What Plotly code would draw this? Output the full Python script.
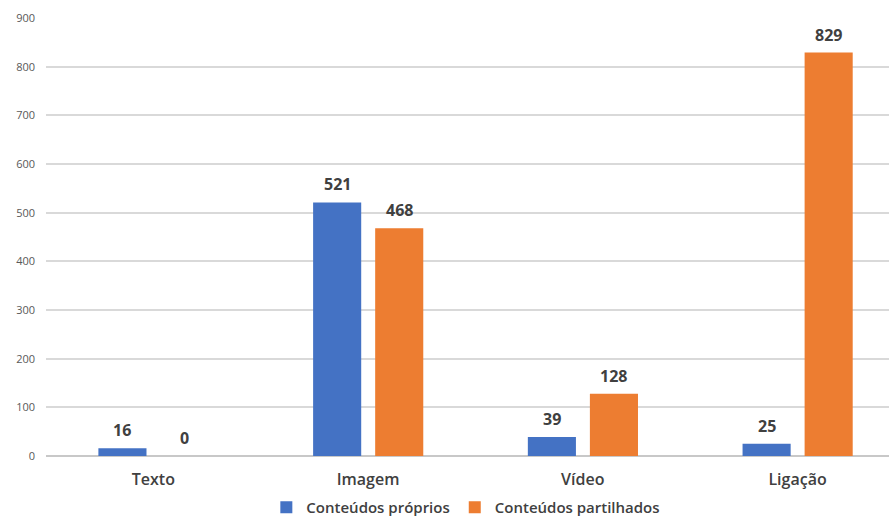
import plotly.graph_objects as go

categories = ["Texto", "Imagem", "Vídeo", "Ligação"]
proprios = [16, 521, 39, 25]
partilhados = [0, 468, 128, 829]
y_ticks = [0, 100, 200, 300, 400, 500, 600, 700, 800, 900]

BLUE = "#4472C4"
ORANGE = "#ED7D31"
TXT = "#404040"
FONT = "Open Sans"

W = 0.224
fig = go.Figure()
fig.add_trace(go.Bar(x=categories, y=proprios, name="Conteúdos próprios",
                     marker=dict(color=BLUE, line=dict(width=0)),
                     width=W, offset=-0.256))
fig.add_trace(go.Bar(x=categories, y=partilhados, name="Conteúdos partilhados",
                     marker=dict(color=ORANGE, line=dict(width=0)),
                     width=W, offset=0.033))

for i, c in enumerate(categories):
    for vals, off in ((proprios, -0.256), (partilhados, 0.033)):
        fig.add_annotation(x=i + off + W / 2, y=vals[i], text=str(vals[i]),
                           showarrow=False, yanchor="bottom", yshift=5,
                           font=dict(family=FONT, size=16, color=TXT, weight=700))

fig.update_layout(
    width=889, height=524,
    margin=dict(l=46, r=0, t=18, b=68),
    paper_bgcolor="white", plot_bgcolor="white",
    barmode="overlay",
    showlegend=True,
    legend=dict(orientation="h", xref="container", yref="container",
                x=0.524, xanchor="center", y=-0.028, yanchor="bottom",
                font=dict(family=FONT, size=15, color=TXT, weight=600),
                itemwidth=30, traceorder="normal"),
    xaxis=dict(type="category", range=[-0.5, 3.426], showgrid=False,
               showline=False, zeroline=False, ticks="",
               tickfont=dict(family=FONT, size=16, color=TXT, weight=600),
               ticklabelstandoff=12),
    yaxis=dict(range=[0, 900], tickvals=y_ticks, showgrid=True, gridcolor="#d9d9d9",
               gridwidth=1.5, zeroline=True, zerolinecolor="#c8c8c8", zerolinewidth=1.5,
               tickfont=dict(family=FONT, size=11, color="#595959"), ticklen=0,
               ticks="", ticklabelstandoff=10),
)

fig.write_html("out.html")
